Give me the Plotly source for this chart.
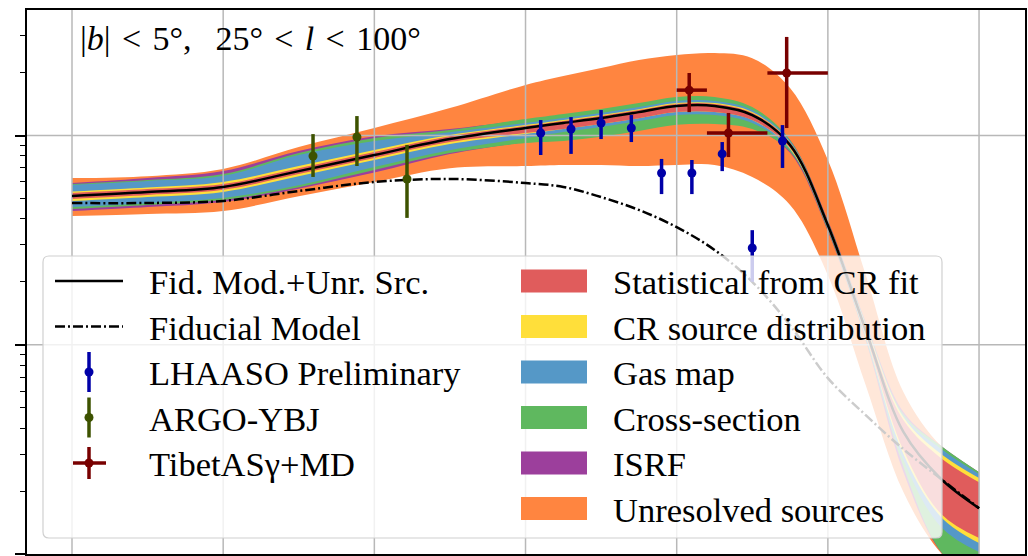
import numpy as np
import plotly.graph_objects as go

# ---------------- model curves (E in GeV, E^2-weighted flux) ----------------
E_model = [1.0e1, 3.16e1, 1.0e2, 3.16e2, 1.0e3, 3.16e3, 1.0e4, 1.78e4, 3.16e4, 5.62e4,
           1.0e5, 1.78e5, 3.16e5, 5.62e5, 1.0e6, 1.78e6, 3.16e6, 5.62e6, 1.0e7]

fid_plus_unres = [5.14e-7, 5.37e-7, 5.68e-7, 6.76e-7, 8.07e-7, 9.62e-7, 1.086e-6, 1.148e-6,
                  1.213e-6, 1.294e-6, 1.384e-6, 1.384e-6, 1.253e-6, 9.02e-7, 3.73e-7,
                  1.175e-7, 3.83e-8, 2.28e-8, 1.656e-8]

fiducial = [4.76e-7, 4.76e-7, 4.87e-7, 5.43e-7, 6.00e-7, 6.20e-7, 5.93e-7, 5.68e-7, 5.08e-7,
            4.41e-7, 3.65e-7, 2.84e-7, 2.00e-7, 1.24e-7, 6.93e-8, 4.61e-8, 3.17e-8,
            2.28e-8, 1.656e-8]

# uncertainty bands: offsets above / below the central curve, in dex
unres_up = [.086, .076, .086, .115, .129, .148, .206, .225, .239, .249, .244, .253, .272, .272, .311, .263, .191, .158, .172]
unres_dn = [.096, .105, .115, .120, .129, .139, .182, .201, .225, .258, .282, .282, .296, .287, .239, .263, .287, .354, .359]
isrf_up = [.062, .067, .076, .096, .090, .048, .038, .033, .029, .029, .029, .029, .029, .024, .024, .038, .096, .158, .172]
isrf_dn = [.072, .072, .072, .084, .084, .072, .067, .067, .067, .067, .067, .067, .057, .038, .029, .048, .191, .349, .354]
xsec_up = [.057, .057, .062, .086, .081, .043, .043, .043, .043, .043, .043, .043, .038, .024, .019, .033, .086, .158, .172]
xsec_dn = [.062, .062, .062, .077, .072, .067, .072, .086, .090, .090, .090, .086, .067, .033, .024, .043, .167, .349, .359]
gas_up = [.053, .053, .053, .077, .067, .033, .024, .024, .024, .024, .024, .024, .024, .019, .014, .029, .077, .144, .163]
gas_dn = [.053, .053, .053, .067, .057, .053, .048, .043, .043, .043, .043, .043, .038, .024, .019, .038, .134, .230, .210]
src_up = [.022, .022, .024, .024, .024, .019, .014, .014, .014, .014, .014, .014, .014, .012, .012, .024, .072, .120, .144]
src_dn = [.024, .024, .024, .024, .024, .024, .029, .029, .029, .029, .029, .029, .024, .019, .014, .029, .105, .182, .167]
stat_up = [.014, .014, .014, .014, .014, .014, .010, .010, .010, .010, .010, .010, .010, .010, .010, .019, .057, .100, .124]
stat_dn = [.014, .014, .014, .014, .014, .014, .024, .029, .029, .029, .029, .029, .024, .014, .012, .024, .086, .167, .143]

# ---------------- measurements ----------------
lhaaso_E = [1.26e4, 2.00e4, 3.16e4, 5.01e4, 7.94e4, 1.26e5, 2.00e5, 3.16e5, 5.01e5]
lhaaso_F = [1.028e-6, 1.074e-6, 1.148e-6, 1.086e-6, 6.62e-7, 6.62e-7, 8.17e-7, 2.90e-7, 9.42e-7]
lhaaso_hi = [1.186e-6, 1.225e-6, 1.324e-6, 1.253e-6, 7.73e-7, 7.64e-7, 9.31e-7, 3.53e-7, 1.122e-6]
lhaaso_lo = [8.07e-7, 8.17e-7, 9.62e-7, 9.31e-7, 5.25e-7, 5.25e-7, 6.76e-7, 2.00e-7, 7.00e-7]

argo_E = [393, 767, 1644]
argo_F = [7.98e-7, 9.84e-7, 6.20e-7]
argo_hi = [1.016e-6, 1.239e-6, 9.02e-7]
argo_lo = [6.34e-7, 7.15e-7, 4.04e-7]

tibet_E = [1.21e5, 2.20e5, 5.34e5]
tibet_Elo = [1.0e5, 1.585e5, 3.981e5]
tibet_Ehi = [1.585e5, 3.981e5, 1.0e6]
tibet_F = [1.648e-6, 1.028e-6, 1.99e-6]
tibet_hi = [1.99e-6, 1.282e-6, 2.96e-6]
tibet_lo = [1.294e-6, 7.89e-7, 1.086e-6]

# ---------------- styling ----------------
band_colors = {
    "unres": "#FF8540",
    "isrf": "#9C3F9C",
    "xsec": "#5FB85F",
    "gas": "#5598C7",
    "src": "#FFDF3A",
    "stat": "#E05C5C",
}
band_labels = [
    ("stat", "Statistical from CR fit"),
    ("src", "CR source distribution"),
    ("gas", "Gas map"),
    ("xsec", "Cross-section"),
    ("isrf", "ISRF"),
    ("unres", "Unresolved sources"),
]
C_LHAASO = "#0000A8"
C_ARGO = "#3D5200"
C_TIBET = "#780000"
GRID = "#b8b8b8"
FONT = "Liberation Serif"

X_RANGE = [0.7023, 7.304]
Y_RANGE = [-8.0, -5.4]
grid_decades_x = [1e1, 1e2, 1e3, 1e4, 1e5, 1e6, 1e7]
grid_decades_y = [1e-7, 1e-6]

W, H = 1028, 556
M = dict(l=27, r=3, t=10, b=2)

fig = go.Figure()

center = np.array(fid_plus_unres)


def add_band(up, dn, color):
    lo = center * 10 ** (-np.array(dn))
    hi = center * 10 ** (np.array(up))
    fig.add_trace(go.Scatter(x=E_model, y=lo, mode="lines", line=dict(width=0, shape="spline"),
                             showlegend=False, hoverinfo="skip"))
    fig.add_trace(go.Scatter(x=E_model, y=hi, mode="lines", line=dict(width=0, shape="spline"),
                             fill="tonexty", fillcolor=color, showlegend=False, hoverinfo="skip"))


add_band(unres_up, unres_dn, band_colors["unres"])
add_band(isrf_up, isrf_dn, band_colors["isrf"])
add_band(xsec_up, xsec_dn, band_colors["xsec"])
add_band(gas_up, gas_dn, band_colors["gas"])
add_band(src_up, src_dn, band_colors["src"])
add_band(stat_up, stat_dn, band_colors["stat"])

# grid lines sit above the bands but below curves and data
gx, gy = [], []
for d in grid_decades_x:
    gx += [d, d, None]
    gy += [1e-9, 1e-5, None]
for d in grid_decades_y:
    gx += [1, 1e8, None]
    gy += [d, d, None]
fig.add_trace(go.Scatter(x=gx, y=gy, mode="lines", line=dict(color=GRID, width=1.5),
                         showlegend=False, hoverinfo="skip"))

fig.add_trace(go.Scatter(x=E_model, y=fiducial, mode="lines",
                         line=dict(color="black", width=2.5, shape="spline", dash="10px,3px,2px,3px"),
                         showlegend=False))
fig.add_trace(go.Scatter(x=E_model, y=fid_plus_unres, mode="lines",
                         line=dict(color="black", width=2.5, shape="spline"), showlegend=False))


def err(vals, hi, lo):
    return dict(type="data", symmetric=False,
                array=[h - v for h, v in zip(hi, vals)],
                arrayminus=[v - l for v, l in zip(vals, lo)])


fig.add_trace(go.Scatter(x=argo_E, y=argo_F, mode="markers",
                         marker=dict(color=C_ARGO, size=9),
                         error_y=dict(**err(argo_F, argo_hi, argo_lo), color=C_ARGO, thickness=3.5, width=0),
                         showlegend=False))
fig.add_trace(go.Scatter(x=lhaaso_E, y=lhaaso_F, mode="markers",
                         marker=dict(color=C_LHAASO, size=9),
                         error_y=dict(**err(lhaaso_F, lhaaso_hi, lhaaso_lo), color=C_LHAASO, thickness=3.5, width=0),
                         showlegend=False))
fig.add_trace(go.Scatter(x=tibet_E, y=tibet_F, mode="markers",
                         marker=dict(color=C_TIBET, size=9),
                         error_y=dict(**err(tibet_F, tibet_hi, tibet_lo), color=C_TIBET, thickness=3.5, width=0),
                         error_x=dict(type="data", symmetric=False,
                                      array=[h - e for h, e in zip(tibet_Ehi, tibet_E)],
                                      arrayminus=[e - l for e, l in zip(tibet_E, tibet_Elo)],
                                      color=C_TIBET, thickness=3.5, width=0),
                         showlegend=False))

# ---------------- legend (drawn in paper coordinates) ----------------
PW = W - M["l"] - M["r"]
PH = H - M["t"] - M["b"]


def fx(p):
    return (p - M["l"]) / PW


def fy(p):
    return (H - M["b"] - p) / PH


shapes = []
annotations = []

# frame with rounded corners, semi-transparent white
bx0, bx1, by0, by1, r = 43, 942, 256, 538, 6
path = (f"M {fx(bx0 + r)},{fy(by0)} L {fx(bx1 - r)},{fy(by0)} Q {fx(bx1)},{fy(by0)} {fx(bx1)},{fy(by0 + r)} "
        f"L {fx(bx1)},{fy(by1 - r)} Q {fx(bx1)},{fy(by1)} {fx(bx1 - r)},{fy(by1)} "
        f"L {fx(bx0 + r)},{fy(by1)} Q {fx(bx0)},{fy(by1)} {fx(bx0)},{fy(by1 - r)} "
        f"L {fx(bx0)},{fy(by0 + r)} Q {fx(bx0)},{fy(by0)} {fx(bx0 + r)},{fy(by0)} Z")
shapes.append(dict(type="path", path=path, xref="paper", yref="paper", layer="above",
                   fillcolor="rgba(255,255,255,0.8)", line=dict(color="#d0d0d0", width=1.2)))

rows = [281, 326.5, 372, 417.5, 463, 508.5]
LS = 34.5


def seg(x0, y0, x1, y1, color, width, dash=None):
    d = dict(type="line", xref="paper", yref="paper", layer="above",
             x0=fx(x0), y0=fy(y0), x1=fx(x1), y1=fy(y1), line=dict(color=color, width=width))
    if dash:
        d["line"]["dash"] = dash
    shapes.append(d)


def dot(xc, yc, rad, color):
    shapes.append(dict(type="circle", xref="paper", yref="paper", layer="above",
                       x0=fx(xc - rad), x1=fx(xc + rad), y0=fy(yc + rad), y1=fy(yc - rad),
                       fillcolor=color, line=dict(width=0)))


seg(55, rows[0], 123, rows[0], "black", 2.5)
seg(55, rows[1], 123, rows[1], "black", 2.5, dash="10px,3px,2px,3px")
seg(89, rows[2] - 20, 89, rows[2] + 20, C_LHAASO, 3.5)
dot(89, rows[2], 4.5, C_LHAASO)
seg(89, rows[3] - 20, 89, rows[3] + 20, C_ARGO, 3.5)
dot(89, rows[3], 4.5, C_ARGO)
seg(89, rows[4] - 16, 89, rows[4] + 16, C_TIBET, 3.5)
seg(73, rows[4], 106, rows[4], C_TIBET, 3.5)
dot(89, rows[4], 4.5, C_TIBET)

left_labels = ["Fid. Mod.+Unr. Src.", "Fiducial Model", "LHAASO Preliminary", "ARGO-YBJ", "TibetAS\u03b3+MD"]
for i, t in enumerate(left_labels):
    annotations.append(dict(x=fx(147), y=fy(rows[i]), xref="paper", yref="paper", text=t,
                            showarrow=False, xanchor="left", yanchor="middle", yshift=-1,
                            font=dict(family=FONT, size=LS, color="black")))

for i, (key, t) in enumerate(band_labels):
    shapes.append(dict(type="rect", xref="paper", yref="paper", layer="above",
                       x0=fx(521), x1=fx(587), y0=fy(rows[i] + 11.5), y1=fy(rows[i] - 11.5),
                       fillcolor=band_colors[key], line=dict(width=0)))
    annotations.append(dict(x=fx(611), y=fy(rows[i]), xref="paper", yref="paper", text=t,
                            showarrow=False, xanchor="left", yanchor="middle", yshift=-1,
                            font=dict(family=FONT, size=LS, color="black")))

annotations.append(dict(x=fx(78), y=fy(38), xref="paper", yref="paper",
                        text="|<i>b</i>|\u2004<\u20045\u00b0,\u2002\u200925\u00b0\u2004<\u2004<i>l</i>\u2004<\u2004100\u00b0",
                        showarrow=False, xanchor="left", yanchor="middle",
                        font=dict(family=FONT, size=34, color="black")))

axis_common = dict(type="log", showgrid=False, zeroline=False, automargin=False,
                   showline=True, mirror=True, linecolor="black", linewidth=1.5,
                   ticks="outside", ticklen=10, tickwidth=1.5, tickcolor="black",
                   dtick=1, showticklabels=False,
                   minor=dict(ticks="outside", ticklen=5, tickwidth=1, tickcolor="black",
                              dtick="D1", showgrid=False))

fig.update_layout(
    width=W, height=H, margin=M,
    paper_bgcolor="white", plot_bgcolor="white",
    shapes=shapes, annotations=annotations, showlegend=False,
    xaxis=dict(range=X_RANGE, **axis_common),
    yaxis=dict(range=Y_RANGE, **axis_common),
)

fig.write_html("out.html")
